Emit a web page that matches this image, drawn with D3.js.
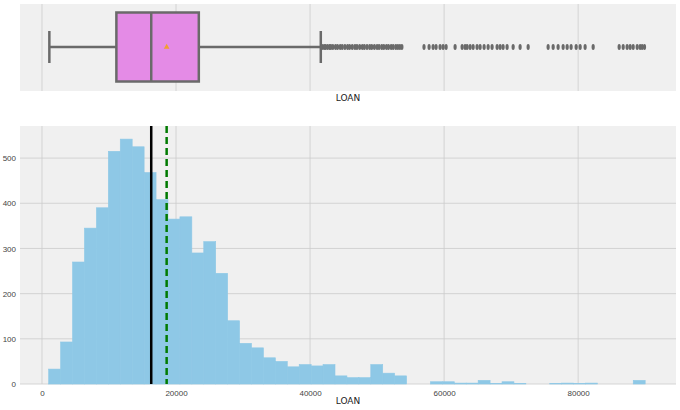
<!DOCTYPE html>
<html>
<head><meta charset="utf-8">
<style>
  body { margin: 0; background: #fff; font-family: "DejaVu Sans", sans-serif; }
  .grid line { stroke: #cbcbcb; stroke-width: 0.8; }
  .axis text { fill: #444; font-size: 8px; }
  .axis path, .axis line { display: none; }
  .lbl { font-size: 9px; fill: #222; }
</style>
</head>
<body>
<svg width="680" height="410"></svg>
<script src="https://cdn.jsdelivr.net/npm/d3@7"></script>
<script>
// histogram: 50 bins from 1000, width 1780
var binStart = 1000, binWidth = 1780;
var counts = [33, 93, 270, 345, 390, 515, 542, 525, 468, 408,
  365, 370, 290, 315, 245, 140, 90, 80, 58, 50,
  38, 43, 40, 43, 18, 14, 14, 43, 24, 18,
  0, 0, 5, 5, 2, 2, 8, 1, 5, 1,
  0, 0, 1, 2, 1, 2, 0, 0, 0, 8];
var xTicks = [0, 20000, 40000, 60000, 80000];
var yTicks = [0, 100, 200, 300, 400, 500];
var stats = { min: 1100, q1: 11100, median: 16300, q3: 23400, max: 41600, mean: 18600 };
var outliers = [41800, 42100, 42300, 42600, 42900, 43100, 43400, 43800, 44100, 44500,
  44800, 45200, 45600, 45900, 46300, 46700, 47000, 47400, 47800, 48100,
  48500, 48900, 49200, 49600, 50000, 50300, 50700, 51000, 51400, 51700,
  52100, 52400, 52800, 53100, 53400, 53700,
  57000, 57760, 58360, 58800, 59400, 59850, 60300, 61640, 62690, 63130,
  63430, 63880, 64330, 64920, 65370, 65970, 66570, 67160, 67910, 68360,
  68800, 69400, 70300, 71340, 72540, 75520, 76270, 77010, 77760, 78360,
  78950, 79700, 80300, 81040, 82240, 86120, 86720, 87310, 87760, 88210,
  88810, 89250, 89550, 89900];

var svg = d3.select("svg");
var left = 20, right = 676;
var x = d3.scaleLinear().domain([-3280, 94600]).range([left, right]);

// ---- box plot panel
var bTop = 4, bBot = 91;
svg.append("rect").attr("x", left).attr("y", bTop).attr("width", right - left).attr("height", bBot - bTop).attr("fill", "#f0f0f0");
svg.append("g").attr("class", "grid").selectAll("line").data(xTicks).enter().append("line")
  .attr("x1", function(d) { return x(d); }).attr("x2", function(d) { return x(d); })
  .attr("y1", bTop).attr("y2", bBot);
var cy = 47, bh = 69;
var gray = "#6a6a6a";
svg.append("line").attr("x1", x(stats.min)).attr("x2", x(stats.q1)).attr("y1", cy).attr("y2", cy).attr("stroke", gray).attr("stroke-width", 2.5);
svg.append("line").attr("x1", x(stats.q3)).attr("x2", x(stats.max)).attr("y1", cy).attr("y2", cy).attr("stroke", gray).attr("stroke-width", 2.5);
[stats.min, stats.max].forEach(function(v) {
  svg.append("line").attr("x1", x(v)).attr("x2", x(v)).attr("y1", cy - 16).attr("y2", cy + 16).attr("stroke", gray).attr("stroke-width", 2.5);
});
svg.append("rect").attr("x", x(stats.q1)).attr("y", cy - bh / 2).attr("width", x(stats.q3) - x(stats.q1)).attr("height", bh)
  .attr("fill", "#e48be6").attr("stroke", gray).attr("stroke-width", 2.5);
svg.append("line").attr("x1", x(stats.median)).attr("x2", x(stats.median)).attr("y1", cy - bh / 2).attr("y2", cy + bh / 2).attr("stroke", gray).attr("stroke-width", 2.5);
svg.append("path").attr("d", d3.symbol(d3.symbolTriangle, 14)()).attr("transform", "translate(" + x(stats.mean) + "," + cy + ")").attr("fill", "#f0a030");
svg.selectAll(".out").data(outliers).enter().append("ellipse").attr("class", "out")
  .attr("cx", function(d) { return x(d); }).attr("cy", cy).attr("rx", 1.6).attr("ry", 3).attr("fill", gray);
svg.append("text").attr("class", "lbl").attr("x", (left + right) / 2).attr("y", 101).attr("text-anchor", "middle").text("LOAN");

// ---- histogram panel
var hTop = 126, hBot = 384;
var y = d3.scaleLinear().domain([0, 571]).range([hBot, hTop]);
svg.append("rect").attr("x", left).attr("y", hTop).attr("width", right - left).attr("height", hBot - hTop).attr("fill", "#f0f0f0");
var grid = svg.append("g").attr("class", "grid");
grid.selectAll(".vx").data(xTicks).enter().append("line")
  .attr("x1", function(d) { return x(d); }).attr("x2", function(d) { return x(d); }).attr("y1", hTop).attr("y2", hBot);
grid.selectAll(".hy").data(yTicks).enter().append("line")
  .attr("x1", left).attr("x2", right).attr("y1", function(d) { return y(d); }).attr("y2", function(d) { return y(d); });

svg.selectAll(".bar").data(counts).enter().append("rect").attr("class", "bar")
  .attr("x", function(d, i) { return x(binStart + i * binWidth); })
  .attr("width", x(binWidth) - x(0))
  .attr("y", function(d) { return y(d); })
  .attr("height", function(d) { return hBot - y(d); })
  .attr("fill", "#8ec8e6")
  .attr("stroke", "#8ec8e6").attr("stroke-width", 0.6);

svg.append("line").attr("x1", x(stats.median)).attr("x2", x(stats.median)).attr("y1", hTop).attr("y2", hBot).attr("stroke", "#000").attr("stroke-width", 2.5);
svg.append("line").attr("x1", x(stats.mean)).attr("x2", x(stats.mean)).attr("y1", hTop).attr("y2", hBot).attr("stroke", "#007a00").attr("stroke-width", 2.5).attr("stroke-dasharray", "7,4");

svg.append("g").attr("class", "axis").attr("transform", "translate(0," + hBot + ")")
  .call(d3.axisBottom(x).tickValues(xTicks).tickSize(0).tickPadding(6).tickFormat(d3.format("d")));
svg.append("g").attr("class", "axis").attr("transform", "translate(" + left + ",0)")
  .call(d3.axisLeft(y).tickValues(yTicks).tickSize(0).tickPadding(4));
svg.append("text").attr("class", "lbl").attr("x", (left + right) / 2).attr("y", 404).attr("text-anchor", "middle").text("LOAN");
</script>
</body>
</html>
